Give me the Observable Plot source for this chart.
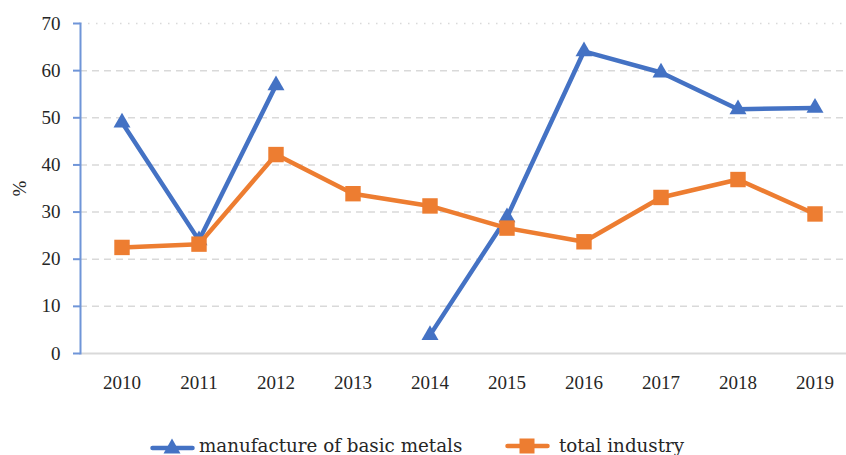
<!DOCTYPE html>
<html>
<head>
<meta charset="utf-8">
<script src="https://cdn.jsdelivr.net/npm/d3@7"></script>
<script src="https://cdn.jsdelivr.net/npm/@observablehq/plot@0.6"></script>
<style>
  html, body { margin: 0; padding: 0; background: #fff; overflow: hidden; }
  #wrap { position: relative; width: 846px; height: 455px; }
  .leg { position: absolute; top: 435px; height: 22px; line-height: 22px; font-family: "DejaVu Serif", "Liberation Serif", serif; font-size: 18.3px; color: #262626; white-space: nowrap; display: flex; align-items: center; }
  .leg svg { display: block; }
</style>
</head>
<body>
<div id="wrap"></div>
<script>
const years = ["2010","2011","2012","2013","2014","2015","2016","2017","2018","2019"];
const metals = [49, 24, 56.9, null, 3.9, 28.9, 64.1, 59.6, 51.8, 52.1];
const industry = [22.5, 23.2, 42.2, 33.9, 31.3, 26.6, 23.7, 33.1, 36.9, 29.6];
const yTicks = [0, 10, 20, 30, 40, 50, 60, 70];
const seriesNames = ["manufacture of basic metals", "total industry"];
const blue = "#4472C4", orange = "#ED7D31";

const metalsData = years.map((y, i) => ({year: y, value: metals[i]}));
const industryData = years.map((y, i) => ({year: y, value: industry[i]}));

const chart = Plot.plot({
  width: 846,
  height: 400,
  marginLeft: 80,
  marginRight: 0,
  marginTop: 23,
  marginBottom: 47,
  style: {fontFamily: "'Liberation Serif', 'Times New Roman', serif", fontSize: "19px", color: "#262626", background: "transparent"},
  x: {type: "band", domain: years, range: [80.2, 856], padding: 0},
  y: {domain: [0, 70]},
  marks: [
    Plot.gridY(yTicks.filter(d => d > 0 && d < 70), {stroke: "#d9d9d9", strokeOpacity: 1, strokeWidth: 1.5, strokeDasharray: "7,5"}),
    Plot.gridY([70], {stroke: "#d9d9d9", strokeOpacity: 1, strokeWidth: 1.5, strokeDasharray: "1.5,6.5"}),
    Plot.ruleY([0], {stroke: "#d9d9d9", strokeWidth: 2}),
    Plot.frame({anchor: "left", stroke: "#6f95d8", strokeWidth: 2}),
    Plot.axisY(yTicks, {tickSize: 7, tickPadding: 13, stroke: "#6f95d8", strokeWidth: 2, fill: "#262626", label: "%", labelAnchor: "center", labelArrow: "none", labelOffset: 68}),
    Plot.axisX({tickSize: 0, tickPadding: 21.5, label: null, fill: "#262626"}),
    Plot.line(metalsData, {x: "year", y: "value", stroke: blue, strokeWidth: 4.5, curve: "linear"}),
    Plot.dot(metalsData, {x: "year", y: "value", symbol: "triangle", r: 6.3, fill: blue, stroke: "none"}),
    Plot.line(industryData, {x: "year", y: "value", stroke: orange, strokeWidth: 4.5}),
    Plot.dot(industryData, {x: "year", y: "value", symbol: "square", r: 8.7, fill: orange, stroke: "none"})
  ]
});
const wrap = document.getElementById("wrap");
wrap.appendChild(chart);

function addLegend(name, color, symbol, left, gap) {
  const d = document.createElement("div");
  d.className = "leg";
  d.style.left = left + "px";
  const sym = symbol === "triangle"
    ? `<polygon points="22,0.5 30.5,15.5 13.5,15.5" fill="${color}"/>`
    : `<rect x="14.5" y="0.5" width="15" height="15" fill="${color}"/>`;
  const ly = symbol === "triangle" ? 10 : 8;
  d.innerHTML = `<svg width="45" height="16" viewBox="0 0 45 16" style="margin-right:${gap}px"><line x1="2.5" x2="42.5" y1="${ly}" y2="${ly}" stroke="${color}" stroke-width="4.5" stroke-linecap="round"/>${sym}</svg><span>${name}</span>`;
  wrap.appendChild(d);
}
addLegend(seriesNames[0], blue, "triangle", 150, 4);
addLegend(seriesNames[1], orange, "square", 505, 9);
</script>
</body>
</html>
